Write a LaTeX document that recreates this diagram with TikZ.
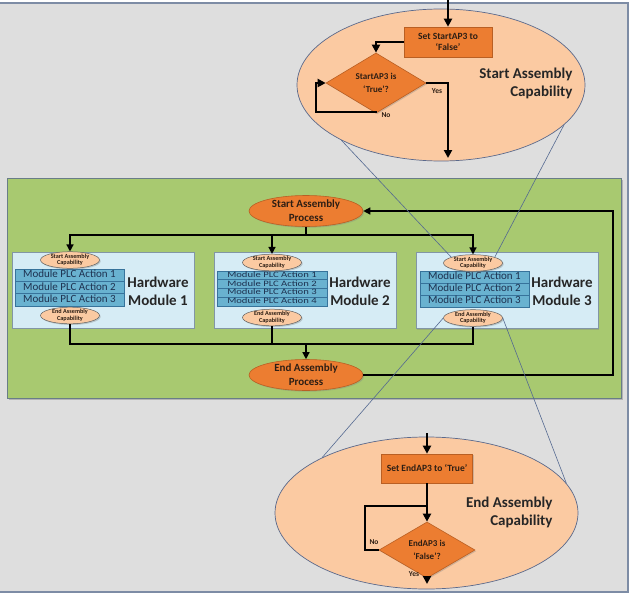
\documentclass[tikz,border=0pt]{standalone}
\usepackage{fontspec}
\setmainfont{Carlito}
\usetikzlibrary{shapes.geometric,arrows.meta,shadows}

\definecolor{bggray}{RGB}{222,222,222}
\definecolor{framec}{RGB}{125,140,165}
\definecolor{greenp}{RGB}{168,201,112}
\definecolor{greenb}{RGB}{105,125,135}
\definecolor{modfill}{RGB}{214,236,245}
\definecolor{modline}{RGB}{130,150,165}
\definecolor{rowfill}{RGB}{105,178,208}
\definecolor{rowline}{RGB}{55,115,155}
\definecolor{rowtext}{RGB}{30,50,80}
\definecolor{peach}{RGB}{251,202,162}
\definecolor{peachline}{RGB}{90,105,140}
\definecolor{orangef}{RGB}{236,125,49}
\definecolor{oranged}{RGB}{185,95,35}
\definecolor{darktext}{RGB}{45,30,20}
\definecolor{zoomline}{RGB}{85,105,145}

\begin{document}
\begin{tikzpicture}[x=1pt,y=-1pt,
  shad/.style={drop shadow={shadow xshift=1.2pt,shadow yshift=-1.2pt,opacity=0.35}},
  proc/.style={ellipse,fill=orangef,draw=oranged,line width=0.6pt,minimum width=114pt,minimum height=31pt,inner sep=0pt,align=center,font=\fontsize{11}{14}\selectfont\bfseries,text=darktext,shad},
  obox/.style={rectangle,fill=orangef,draw=oranged,line width=0.6pt,inner sep=0pt,align=center,font=\fontsize{9.5}{11}\selectfont\bfseries,text=darktext,shad},
  odia/.style={diamond,fill=orangef,draw=oranged,line width=0.6pt,inner sep=0pt,align=center,font=\fontsize{9}{13}\selectfont\bfseries,text=darktext,shad},
  bigell/.style={ellipse,fill=peach,draw=peachline,line width=0.7pt,inner sep=0pt},
  capsmall/.style={ellipse,fill=peach,draw=gray!75!black,line width=0.5pt,minimum width=59pt,minimum height=15pt,inner sep=0pt,align=center,font=\fontsize{6.2}{6.4}\selectfont\bfseries,text=darktext,shad},
  modbox/.style={rectangle,fill=modfill,draw=modline,line width=0.7pt,inner sep=0pt,shad},
  arow/.style={rectangle,fill=rowfill,draw=rowline,line width=0.6pt,inner sep=0pt,text height=7.2pt,text depth=2pt,font=\fontsize{11}{11}\selectfont,text=rowtext},
  arows/.style={arow,text height=5.6pt,text depth=1.6pt,font=\fontsize{8.3}{8.5}\selectfont\addfontfeatures{FakeStretch=1.28}},
  hw/.style={align=center,font=\fontsize{15}{18}\selectfont\bfseries,text=black!85},
  bigtxt/.style={align=right,anchor=east,font=\fontsize{15}{18}\selectfont\bfseries,text=black!85},
  lbl/.style={font=\fontsize{7.5}{8}\selectfont\bfseries,text=darktext,inner sep=0pt},
  conn/.style={line width=1.3pt},
  flow/.style={conn,-{Triangle[length=7pt,width=7pt]}},
  bline/.style={line width=2.4pt},
  bflow/.style={bline,-{Triangle[length=8pt,width=8pt]}},
  zoomln/.style={draw=zoomline,line width=0.6pt}]

\useasboundingbox (0,0) rectangle (632,597);
\fill[white] (0,0) rectangle (632,597);
\fill[bggray] (0,3) rectangle (628,592);
\draw[framec,line width=1.6pt] (0,3) -- (628,3) -- (628,592) -- (0,592);

% ---------- top ellipse: Start Assembly Capability ----------
\node[bigell,minimum width=288pt,minimum height=152pt] (TE) at (441,85) {};
\node[obox,minimum width=88pt,minimum height=30pt] (b1) at (448,42) {Set StartAP3 to\\‘False’};
\node[odia,minimum width=100pt,minimum height=46pt] (d1) at (376,83) {StartAP3 is\\‘True’?};
\coordinate (tin) at (448,0);
\coordinate (tout) at (448,158);
\coordinate (tl) at (316,83);
\coordinate (tb) at (376,112);
\draw[bflow] (tin) -- (b1.north);
\draw[bflow] (b1.west) -| (d1.north);
\draw[bflow] (d1.east) -| (tout);
\draw[bflow] (d1.south) -- (tb) -| (tl) -- (d1.west);
\node[lbl] (yes1) at (437,91) {Yes};
\node[lbl] (no1) at (386,115) {No};
\node[bigtxt] (tetxt) at (576,83) {Start Assembly\\Capability};

% ---------- green panel ----------
\node[rectangle,fill=greenp,draw=greenb,line width=0.8pt,minimum width=614pt,minimum height=220pt,inner sep=0pt,drop shadow={shadow xshift=1.5pt,shadow yshift=-1.5pt,opacity=0.45}] (panel) at (314,288) {};

\node[proc] (sp) at (306,211) {Start Assembly\\Process};
\node[proc] (ep) at (306,375) {End Assembly\\Process};

% modules
\node[modbox,minimum width=182pt,minimum height=76pt] (m1) at (103,290) {};
\node[modbox,minimum width=182pt,minimum height=76pt] (m2) at (305,290) {};
\node[modbox,minimum width=182pt,minimum height=76pt] (m3) at (507,290.5) {};

% module 1
\node[arow,minimum width=109pt,minimum height=12.3pt] (r11) at (69.5,275.2) {Module PLC Action 1};
\node[arow,minimum width=109pt,minimum height=12.3pt] (r12) at (69.5,287.5) {Module PLC Action 2};
\node[arow,minimum width=109pt,minimum height=12.3pt] (r13) at (69.5,299.8) {Module PLC Action 3};
\node[capsmall] (sa1) at (70,260) {Start Assembly\\Capability};
\node[capsmall] (ea1) at (70,315.5) {End Assembly\\Capability};
\node[hw] (h1) at (158,291) {Hardware\\Module 1};

% module 2
\node[arows,minimum width=110pt,minimum height=8.75pt] (r21) at (272,275.4) {Module PLC Action 1};
\node[arows,minimum width=110pt,minimum height=8.75pt] (r22) at (272,284.1) {Module PLC Action 2};
\node[arows,minimum width=110pt,minimum height=8.75pt] (r23) at (272,292.9) {Module PLC Action 3};
\node[arows,minimum width=110pt,minimum height=8.75pt] (r24) at (272,301.6) {Module PLC Action 4};
\node[capsmall] (sa2) at (272,262.5) {Start Assembly\\Capability};
\node[capsmall] (ea2) at (272,317.5) {End Assembly\\Capability};
\node[hw] (h2) at (360,291) {Hardware\\Module 2};

% module 3
\node[arow,minimum width=109pt,minimum height=12pt] (r31) at (474.5,277) {Module PLC Action 1};
\node[arow,minimum width=109pt,minimum height=12pt] (r32) at (474.5,289) {Module PLC Action 2};
\node[arow,minimum width=109pt,minimum height=12pt] (r33) at (474.5,301) {Module PLC Action 3};
\node[capsmall] (sa3) at (473,263) {Start Assembly\\Capability};
\node[capsmall] (ea3) at (473,318) {End Assembly\\Capability};
\node[hw] (h3) at (562,291.5) {Hardware\\Module 3};

% connectors
\coordinate (j1) at (306,235);
\coordinate (j2) at (306,344);
\coordinate (rl) at (613,211);
\draw[conn] (sp.south) -- (j1);
\draw[flow] (j1) -| (sa1.north);
\draw[flow] (j1) -| (sa2.north);
\draw[flow] (j1) -| (sa3.north);
\draw[conn] (ea1.south) |- (j2);
\draw[conn] (ea2.south) |- (j2);
\draw[conn] (ea3.south) |- (j2);
\draw[flow] (j2) -- (ep.north);
\draw[flow] (ep.east) -| (rl) -- (sp.east);

% ---------- bottom ellipse: End Assembly Capability ----------
\node[bigell,minimum width=303pt,minimum height=152pt] (BE) at (426.5,513) {};
\node[obox,minimum width=91pt,minimum height=29pt] (b2) at (427,468.5) {Set EndAP3 to ‘True’};
\node[odia,minimum width=96pt,minimum height=45pt] (d2) at (427,550) {EndAP3 is\\‘False’?};
\coordinate (bin) at (427,433);
\coordinate (bout) at (427,584);
\coordinate (jb) at (427,506);
\coordinate (lb) at (365,506);
\draw[bflow] (bin) -- (b2.north);
\draw[bflow] (b2.south) -- (d2.north);
\draw[bline] (d2.west) -| (lb) -- (jb);
\draw[bflow] (d2.south) -- (bout);
\node[lbl] (no2) at (374,542) {No};
\node[lbl] (yes2) at (414,574) {Yes};
\node[bigtxt] (betxt) at (556,512) {End Assembly\\Capability};

% ---------- zoom lines ----------
\draw[zoomln] (TE.209) -- (sa3.165);
\draw[zoomln] (TE.-18) -- (sa3.15);
\draw[zoomln] (ea3.west) -- (BE.152);
\draw[zoomln] (ea3.east) -- (BE.12);
\end{tikzpicture}
\end{document}
